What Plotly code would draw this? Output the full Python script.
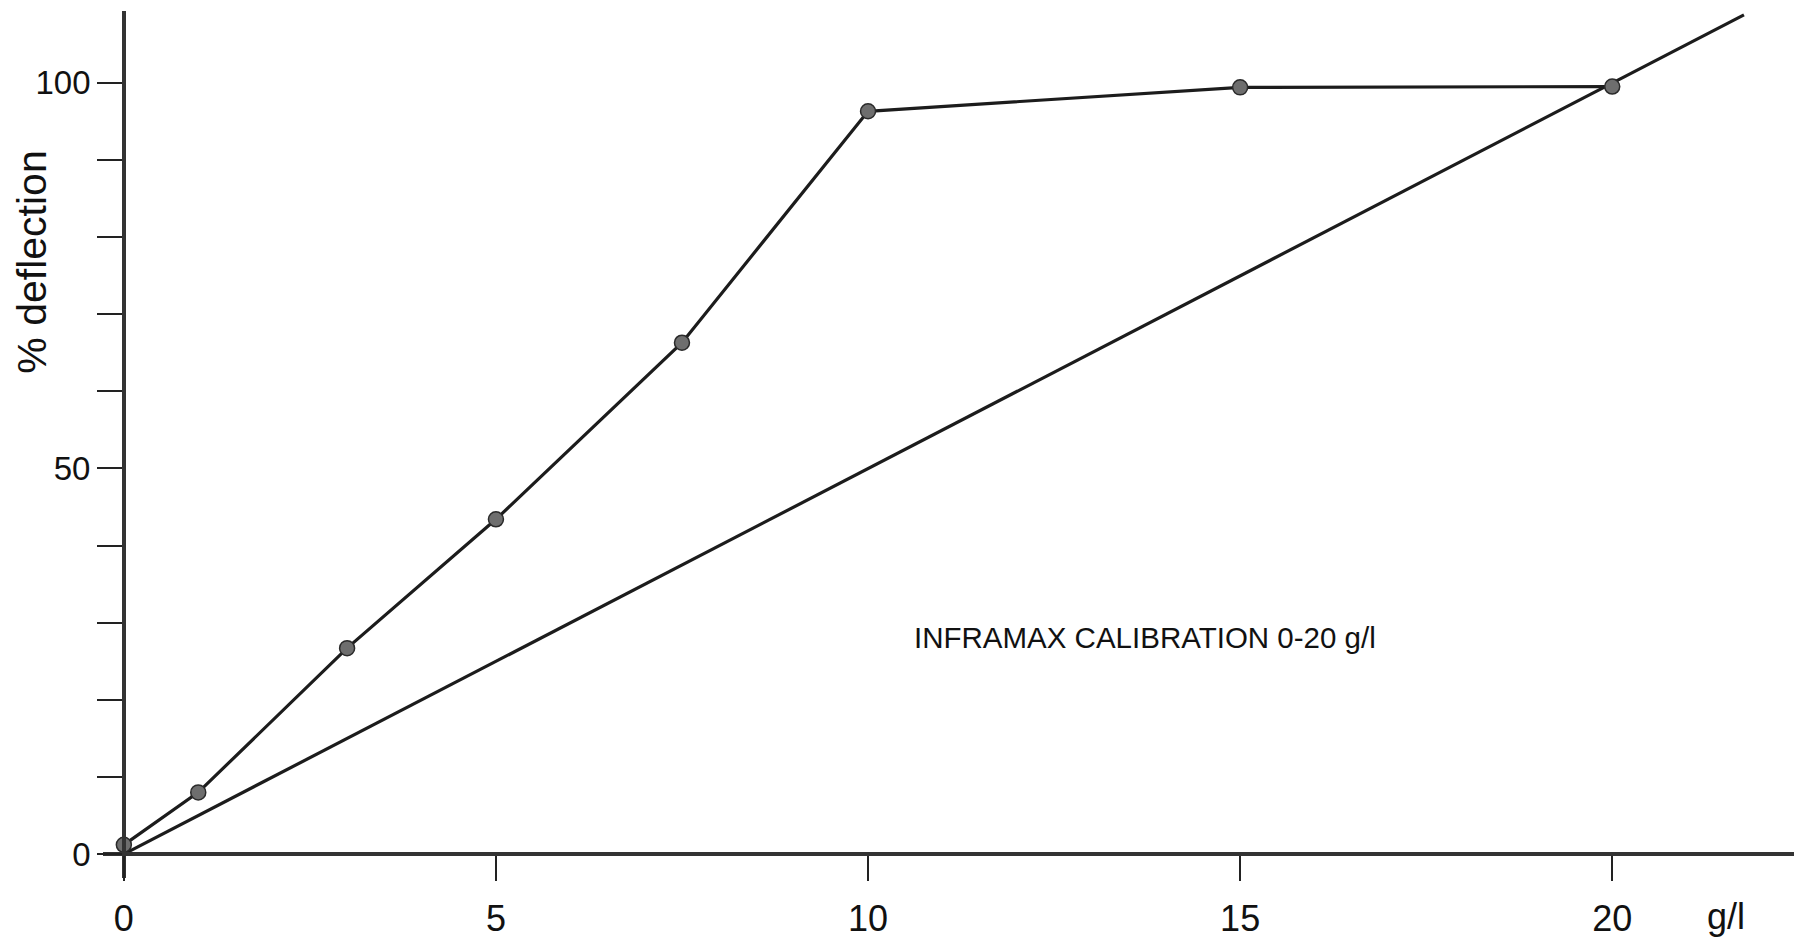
import plotly.graph_objects as go

# Calibration data (g/l vs % deflection)
conc = [0, 1, 3, 5, 7.5, 10, 15, 20]
deflection = [1.2, 8, 26.7, 43.4, 66.3, 96.3, 99.4, 99.5]

# Ideal linear reference line
ideal_x = [0, 21.77]
ideal_y = [0, 108.8]

x_tickvals = [0, 5, 10, 15, 20]
x_ticktext = ["0", "5", "10", "15", "20"]
y_tickvals = [0, 10, 20, 30, 40, 50, 60, 70, 80, 90, 100]
y_ticktext = ["0", "", "", "", "", "50", "", "", "", "", "100"]

title_text = "INFRAMAX CALIBRATION 0-20 g/l"
x_unit = "g/l"
y_title = "% deflection"

FONT = "Liberation Sans, Arial, Helvetica, sans-serif"
INK = "#1c1c1c"

fig = go.Figure()
fig.add_trace(go.Scatter(
    x=ideal_x, y=ideal_y, mode="lines",
    line=dict(color=INK, width=3.2), cliponaxis=False, showlegend=False,
))
fig.add_trace(go.Scatter(
    x=conc, y=deflection, mode="lines+markers",
    line=dict(color=INK, width=3.2),
    marker=dict(size=15, color="#6e6e6e", line=dict(color="#2a2a2a", width=1.5)),
    cliponaxis=False, showlegend=False,
))

xr = [-0.28, 22.55]
yr = [-3.1, 109.3]

fig.update_layout(
    width=1794, height=933,
    margin=dict(l=95, r=0, t=3, b=63),
    paper_bgcolor="white", plot_bgcolor="white",
    font=dict(family=FONT, color="#111", size=34),
    xaxis=dict(
        range=xr, showgrid=False, zeroline=False,
        showline=True, linecolor="#333", linewidth=3.5,
        anchor="free", position=(0 - yr[0]) / (yr[1] - yr[0]),
        ticks="outside", ticklen=25, tickwidth=2, tickcolor="#222",
        tickvals=x_tickvals, ticktext=x_ticktext,
        tickfont=dict(size=36, family=FONT), ticklabelstandoff=7,
    ),
    yaxis=dict(
        range=yr, showgrid=False, zeroline=False,
        showline=True, linecolor="#333", linewidth=3.5,
        anchor="free", position=(0 - xr[0]) / (xr[1] - xr[0]),
        ticks="outside", ticklen=25, tickwidth=2, tickcolor="#222",
        tickvals=y_tickvals, ticktext=y_ticktext,
        tickfont=dict(size=33, family=FONT), ticklabelstandoff=0,
    ),
    annotations=[
        dict(text=title_text, x=13.72, y=28.05, xref="x", yref="y",
             showarrow=False, font=dict(size=29.5, family=FONT, color="#111")),
        dict(text=x_unit, x=21.53, y=-0.044, xref="x", yref="paper",
             yanchor="middle", showarrow=False,
             font=dict(size=36, family=FONT, color="#111")),
        dict(text=y_title, x=-0.0418, y=76.8, xref="paper", yref="y",
             textangle=-90, showarrow=False, xanchor="center", yanchor="middle",
             font=dict(size=41, family=FONT, color="#111")),
    ],
)

fig.write_html("out.html")
